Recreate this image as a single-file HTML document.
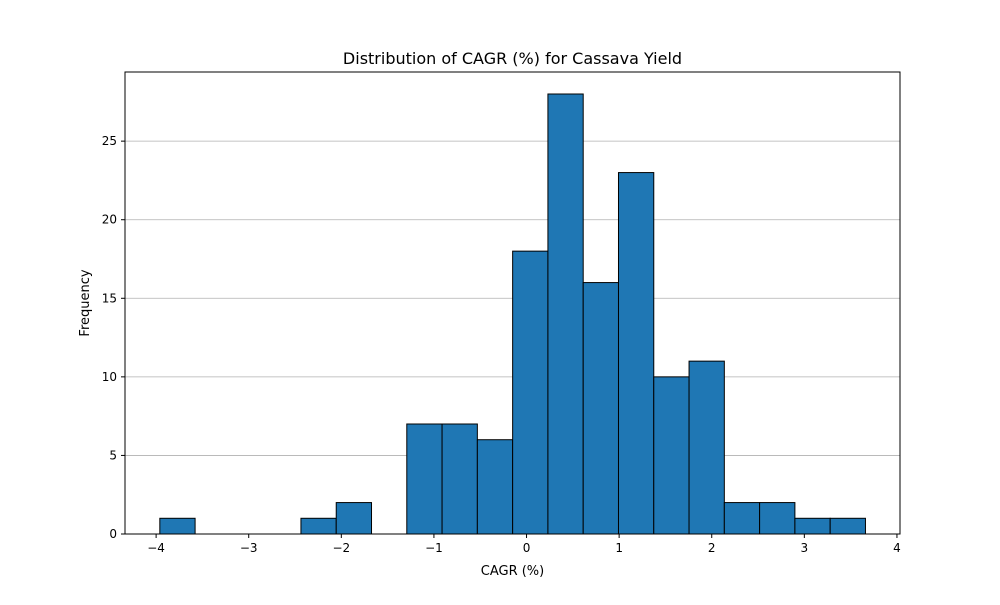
<!DOCTYPE html>
<html><head><meta charset="utf-8"><style>
body{margin:0;background:#fff;font-family:"Liberation Sans","DejaVu Sans",sans-serif;}
svg text{font-family:"DejaVu Sans","Liberation Sans",sans-serif;}
</style></head><body>
<svg id="chart" width="1000" height="600" xmlns="http://www.w3.org/2000/svg">
<rect width="1000" height="600" fill="#fff"/>
<text x="512.5" y="64" font-size="16" text-anchor="middle">Distribution of CAGR (%) for Cassava Yield</text>
<g id="grid"></g><g id="bars"></g><g id="axes"></g>
<text x="512.5" y="575" font-size="13" text-anchor="middle">CAGR (%)</text>
<text transform="translate(89,303) rotate(-90)" font-size="13" text-anchor="middle">Frequency</text>
</svg>
<script>
const binStart = -3.96;
const binWidth = 0.381;
const counts = [1,0,0,0,1,2,0,7,7,6,18,28,16,23,10,11,2,2,1,1];
const xTicks = [-4,-3,-2,-1,0,1,2,3,4];
const xTickLabels = ["−4","−3","−2","−1","0","1","2","3","4"];
const yTicks = [0,5,10,15,20,25];
const L=125,R=900,T=72,B=534;
const xMin=-4.336,xMax=4.033,yMax=29.4;
const xs=v=>L+(v-xMin)/(xMax-xMin)*(R-L);
const ys=v=>B-v/yMax*(B-T);
const NS="http://www.w3.org/2000/svg";
function mk(tag,attrs,parent,text){const e=document.createElementNS(NS,tag);for(const k in attrs)e.setAttribute(k,attrs[k]);if(text!==undefined)e.textContent=text;parent.appendChild(e);return e;}
const grid=document.getElementById('grid'),bars=document.getElementById('bars'),axes=document.getElementById('axes');
yTicks.forEach(t=>{if(t===0)return;const y=ys(t);const g=mk('line',{x1:L,x2:R,y1:y,y2:y,stroke:'#b0b0b0','stroke-width':0.8},grid);

});
counts.forEach((c,i)=>{if(c===0)return;const x0=xs(binStart+i*binWidth),x1=xs(binStart+(i+1)*binWidth);
const r=mk('rect',{x:x0,y:ys(c),width:x1-x0,height:B-ys(c),fill:'#1f77b4',stroke:'#000','stroke-width':1},bars);

});
const fr=mk('rect',{x:L,y:T,width:R-L,height:B-T,fill:'none',stroke:'#000','stroke-width':1},axes);


xTicks.forEach((t,i)=>{const x=xs(t);mk('line',{x1:x,x2:x,y1:B,y2:B+4,stroke:'#000'},axes);
const tx=mk('text',{x:x,y:B+18,'font-size':12,'text-anchor':'middle'},axes,xTickLabels[i]);

});
yTicks.forEach(t=>{const y=ys(t);mk('line',{x1:L-4,x2:L,y1:y,y2:y,stroke:'#000'},axes);
const tx=mk('text',{x:L-8,y:y+4,'font-size':12,'text-anchor':'end'},axes,String(t));

});
</script>
</body></html>
